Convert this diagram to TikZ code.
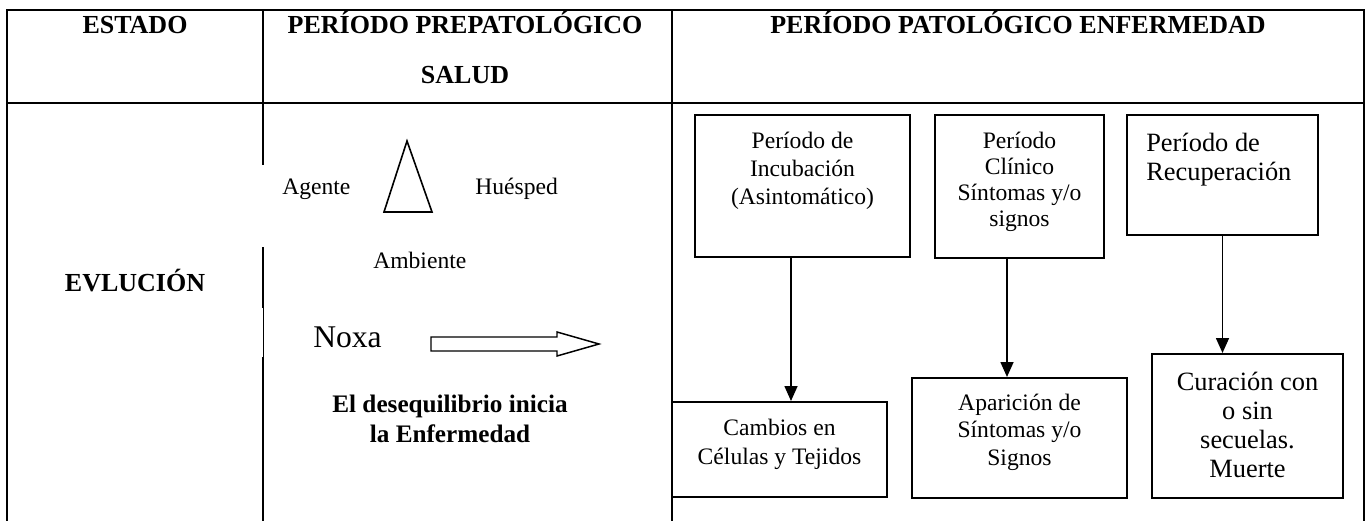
\documentclass[tikz,border=0pt]{standalone}
\usepackage{fontspec}
\setmainfont{Liberation Serif}
\usetikzlibrary{arrows.meta}

\tikzset{
  caja/.style={draw, line width=1.5pt, inner sep=0pt},
  dentro/.style={anchor=north, inner sep=0pt, align=center, font=\fontsize{17.7}{21}\selectfont},
  dentrog/.style={inner sep=0pt, align=center, font=\fontsize{19.8}{21.75}\selectfont},
  txt/.style={inner sep=0pt, font=\fontsize{17.7}{21}\selectfont},
  titulo/.style={inner sep=0pt, font=\bfseries\fontsize{19.5}{37.5}\selectfont},
  flecha/.style={line width=1.2pt, -{Triangle[width=9.75pt,length=11.25pt]}},
  linea/.style={line width=1.8pt},
}

\begin{document}
\begin{tikzpicture}[x=0.75pt, y=-0.75pt]
  \useasboundingbox (0,0) rectangle (1371,521);

  % tabla
  \draw[linea] (7,521) -- (7,10) -- (1364,10) -- (1364,521);
  \draw[linea] (7,103) -- (1364,103);
  \draw[linea] (672,10) -- (672,521);
  \draw[linea] (263,10) -- (263,165);
  \draw[linea] (263,247) -- (263,308);
  \draw[line width=0.9pt] (263.5,308) -- (263.5,357);
  \draw[linea] (263,357) -- (263,521);

  % encabezados
  \node[titulo, anchor=base] (estado) at (135,33.5) {ESTADO};
  \node[titulo, anchor=north, align=center] (prepat) at (465,10.5) {PERÍODO PREPATOLÓGICO\\SALUD};
  \node[titulo, anchor=base] (patol) at (1018,33.5) {PERÍODO PATOLÓGICO ENFERMEDAD};
  \node[titulo, anchor=base] (evol) at (135,291) {EVLUCIÓN};

  % periodo prepatologico
  \node[txt, anchor=base west] (agente) at (282,194.5) {Agente};
  \node[txt, anchor=base west] (huesped) at (475,194.5) {Huésped};
  \node[txt, anchor=base west] (ambiente) at (373,268.5) {Ambiente};
  \draw[line width=1.2pt] (407,141) -- (384,212) -- (432,212) -- cycle;
  \node[inner sep=0pt, anchor=base west, font=\fontsize{23.7}{28}\selectfont] (noxa) at (313,347) {Noxa};
  \draw[line width=1.1pt] (431,337) -- (557,337) -- (557,332) -- (599,344) -- (557,356) -- (557,351) -- (431,351) -- cycle;
  \node[inner sep=0pt, anchor=north, align=center, font=\bfseries\fontsize{18.9}{22.5}\selectfont] (deseq) at (450,395)
    {El desequilibrio inicia\\la Enfermedad};

  % periodo patologico
  \node[caja, minimum width=161.25pt, minimum height=106.5pt,
    label={[dentro, yshift=-13.1pt]north:{Período de\\Incubación\\(Asintomático)}}] (incub) at (802.5,186) {};
  \node[caja, minimum width=126.75pt, minimum height=107.25pt,
    label={[dentro, yshift=-13.1pt, font=\fontsize{17.7}{19.6}\selectfont]north:{Período\\Clínico\\Síntomas y/o\\signos}}] (clinico) at (1019.5,186.5) {};
  \node[caja, minimum width=143.25pt, minimum height=90pt,
    label={[dentrog, anchor=north west, align=left, xshift=15pt, yshift=-14.2pt]north west:{Período de\\Recuperación}}] (recup) at (1222.5,175) {};

  \node[caja, minimum width=161.25pt, minimum height=71.25pt,
    label={[dentro, yshift=-13.5pt, font=\fontsize{17.7}{21.75}\selectfont]north:{Cambios en\\Células y Tejidos}}] (cambios) at (779.5,449.5) {};
  \node[caja, minimum width=161.25pt, minimum height=90pt,
    label={[dentro, yshift=-12.3pt, font=\fontsize{17.7}{20.8}\selectfont]north:{Aparición de\\Síntomas y/o\\Signos}}] (aparic) at (1019.5,438) {};
  \node[caja, minimum width=143.25pt, minimum height=108pt,
    label={[dentrog, anchor=north, yshift=-14.2pt]north:{Curación con\\o sin\\secuelas.\\Muerte}}] (curac) at (1247.5,426) {};

  \coordinate (a1) at ([xshift=-8.625pt]incub.south);
  \coordinate (a2) at ([xshift=-9.375pt]clinico.south);
  \draw[flecha] (a1) -- (a1 |- cambios.north);
  \draw[flecha] (a2) -- (a2 |- aparic.north);
  \draw[flecha] (recup.south) -- (recup.south |- curac.north);
\end{tikzpicture}
\end{document}
